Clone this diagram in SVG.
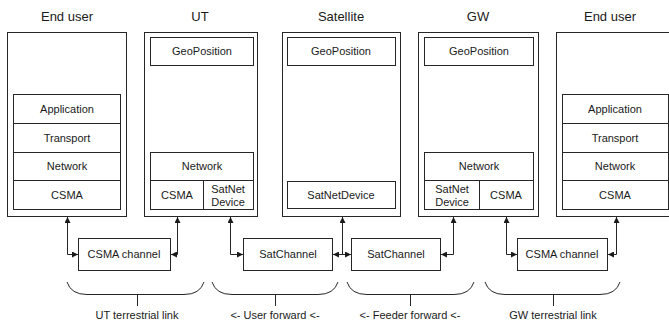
<svg xmlns="http://www.w3.org/2000/svg" width="669" height="327" viewBox="0 0 669 327">
<style>
rect{fill:#fff;stroke:#262626;stroke-width:1}
text{font-family:"Liberation Sans",Arial,sans-serif;font-size:11px;fill:#1a1a1a;text-anchor:middle}
.h{font-size:13px}
.c{fill:none;stroke:#262626;stroke-width:1}
</style>
<defs>
<marker id="a" viewBox="0 0 6 6" refX="6" refY="3" markerWidth="6" markerHeight="6" markerUnits="userSpaceOnUse" orient="auto-start-reverse">
<path d="M0,0 L6,3 L0,6 z" fill="#1a1a1a"/>
</marker>
</defs>

<g id="enduser-left">
<text class="h" x="67" y="21">End user</text>
<rect x="7.5" y="32.5" width="119" height="184"/>
<rect x="13.5" y="94.5" width="107" height="29"/><text x="67" y="113">Application</text>
<rect x="13.5" y="123.5" width="107" height="29"/><text x="67" y="142">Transport</text>
<rect x="13.5" y="152.5" width="107" height="28"/><text x="67" y="170">Network</text>
<rect x="13.5" y="180.5" width="107" height="29"/><text x="67" y="199">CSMA</text>
</g>

<g id="ut">
<text class="h" x="200" y="21">UT</text>
<rect x="144.5" y="32.5" width="113" height="184"/>
<rect x="150.5" y="37.5" width="103" height="28"/><text x="202" y="55">GeoPosition</text>
<rect x="150.5" y="152.5" width="103" height="28"/><text x="202" y="170">Network</text>
<rect x="150.5" y="180.5" width="53" height="29"/><text x="177" y="199">CSMA</text>
<rect x="203.5" y="180.5" width="50" height="29"/><text x="228" y="193">SatNet</text><text x="228" y="206">Device</text>
</g>

<g id="satellite">
<text class="h" x="341" y="21">Satellite</text>
<rect x="282.5" y="32.5" width="118" height="184"/>
<rect x="287.5" y="37.5" width="108" height="28"/><text x="341" y="55">GeoPosition</text>
<rect x="287.5" y="181.5" width="108" height="27"/><text x="341" y="199">SatNetDevice</text>
</g>

<g id="gw">
<text class="h" x="478" y="21">GW</text>
<rect x="418.5" y="32.5" width="120" height="184"/>
<rect x="424.5" y="37.5" width="109" height="28"/><text x="479" y="55">GeoPosition</text>
<rect x="424.5" y="152.5" width="109" height="28"/><text x="479" y="170">Network</text>
<rect x="424.5" y="180.5" width="55" height="29"/><text x="452" y="193">SatNet</text><text x="452" y="206">Device</text>
<rect x="479.5" y="180.5" width="54" height="29"/><text x="506" y="199">CSMA</text>
</g>

<g id="enduser-right">
<text class="h" x="610" y="21">End user</text>
<rect x="556.5" y="32.5" width="120" height="184"/>
<rect x="562.5" y="94.5" width="106" height="29"/><text x="615" y="113">Application</text>
<rect x="562.5" y="123.5" width="106" height="29"/><text x="615" y="142">Transport</text>
<rect x="562.5" y="152.5" width="106" height="28"/><text x="615" y="170">Network</text>
<rect x="562.5" y="180.5" width="106" height="29"/><text x="615" y="199">CSMA</text>
</g>

<g id="csma-channel-ut">
<rect x="78.5" y="238.5" width="92" height="32"/><text x="124" y="258">CSMA channel</text>
</g>
<g id="satchannel-user">
<rect x="243.5" y="238.5" width="89" height="32"/><text x="288" y="258">SatChannel</text>
</g>
<g id="satchannel-feeder">
<rect x="351.5" y="238.5" width="89" height="32"/><text x="396" y="258">SatChannel</text>
</g>
<g id="csma-channel-gw">
<rect x="517.5" y="238.5" width="90" height="32"/><text x="562" y="258">CSMA channel</text>
</g>

<g id="connectors">
<path class="c" d="M67.5,217 V254.5 H78" marker-start="url(#a)" marker-end="url(#a)"/>
<path class="c" d="M177.5,217 V254.5 H171" marker-start="url(#a)" marker-end="url(#a)"/>
<path class="c" d="M230.5,217 V254.5 H243" marker-start="url(#a)" marker-end="url(#a)"/>
<path class="c" d="M342.5,217 V254.5" marker-start="url(#a)"/>
<path class="c" d="M333,254.5 H351" marker-start="url(#a)" marker-end="url(#a)"/>
<path class="c" d="M453.5,217 V254.5 H441" marker-start="url(#a)" marker-end="url(#a)"/>
<path class="c" d="M506.5,217 V254.5 H517" marker-start="url(#a)" marker-end="url(#a)"/>
<path class="c" d="M616.5,217 V254.5 H608" marker-start="url(#a)" marker-end="url(#a)"/>
</g>

<g id="braces">
<path class="c" d="M67,282 Q71,294.5 87,294.5 H184 Q200,294.5 204,282 M137.5,294.5 V306"/>
<path class="c" d="M212,282 Q216,294.5 232,294.5 H318 Q334,294.5 338,282 M275.5,294.5 V306"/>
<path class="c" d="M347,282 Q351,294.5 367,294.5 H454 Q470,294.5 474,282 M410.5,294.5 V306"/>
<path class="c" d="M485,282 Q489,294.5 505,294.5 H600 Q616,294.5 620,282 M553.5,294.5 V306"/>
</g>

<g id="link-labels">
<text x="137" y="319">UT terrestrial link</text>
<text x="275" y="319">&lt;- User forward &lt;-</text>
<text x="410" y="319">&lt;- Feeder forward &lt;-</text>
<text x="553" y="319">GW terrestrial link</text>
</g>
</svg>
